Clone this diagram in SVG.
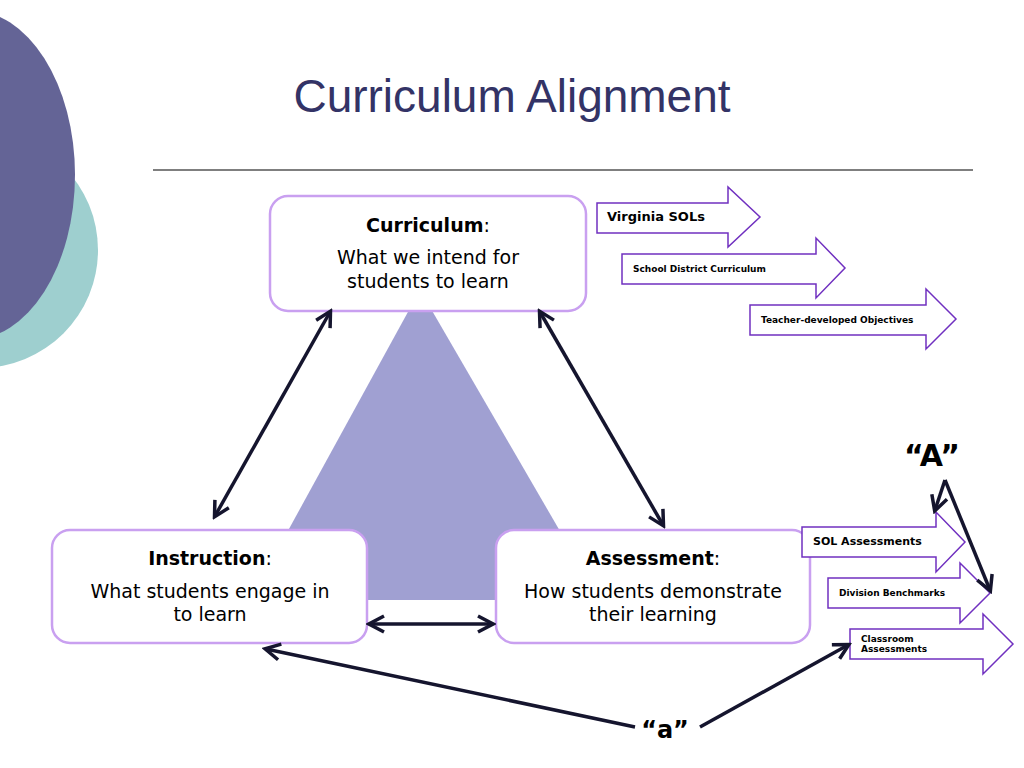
<svg xmlns="http://www.w3.org/2000/svg" width="1024" height="768" viewBox="0 0 1024 768">
<style>
.box{fill:#fff;stroke:#c9a0f0;stroke-width:2.5}
.arr{fill:#fff;stroke:#7030c0;stroke-width:1.5}
.t{font-family:"DejaVu Sans",sans-serif;fill:#000;text-anchor:middle}
.s{font-family:"DejaVu Sans",sans-serif;font-weight:bold;fill:#000}
.c{stroke:#15152e;stroke-width:3.5;fill:none}
</style>
<defs>
<marker id="h" markerWidth="8" markerHeight="8" refX="6" refY="4" orient="auto-start-reverse" markerUnits="userSpaceOnUse" viewBox="0 0 8 8">
<path d="M0,0 L7,4 L0,8" fill="none" stroke="#15152e" stroke-width="2"/>
</marker>
<marker id="hb" markerWidth="20" markerHeight="20" refX="16" refY="10" orient="auto-start-reverse" markerUnits="userSpaceOnUse" viewBox="0 0 20 20">
<path d="M2,2 L17,10 L2,18" fill="none" stroke="#15152e" stroke-width="3.5"/>
</marker>
</defs>
<rect width="1024" height="768" fill="#fff"/>
<circle cx="-20" cy="250" r="118" fill="#9ecfcf"/>
<ellipse cx="-30" cy="175" rx="105" ry="165" fill="#646496"/>
<text x="512" y="112" font-family="Liberation Sans,Arial,sans-serif" font-size="46" fill="#333366" text-anchor="middle">Curriculum Alignment</text>
<line x1="153" y1="170" x2="973" y2="170" stroke="#000" stroke-width="1.2"/>
<polygon points="420,290 250,600 600,600" fill="#a0a0d2"/>
<g id="curriculum"><rect class="box" x="270" y="196" width="316" height="115" rx="18"/>
<text class="t" x="428" y="232" font-size="19"><tspan font-weight="bold">Curriculum</tspan>:</text>
<text class="t" x="428" y="264" font-size="19">What we intend for</text>
<text class="t" x="428" y="288" font-size="19">students to learn</text></g>
<g id="instruction"><rect class="box" x="52" y="530" width="315" height="113" rx="18"/>
<text class="t" x="210" y="565" font-size="19"><tspan font-weight="bold">Instruction</tspan>:</text>
<text class="t" x="210" y="598" font-size="19">What students engage in</text>
<text class="t" x="210" y="621" font-size="19">to learn</text></g>
<g id="assessment"><rect class="box" x="496" y="530" width="314" height="113" rx="18"/>
<text class="t" x="653" y="565" font-size="19"><tspan font-weight="bold">Assessment</tspan>:</text>
<text class="t" x="653" y="598" font-size="19">How students demonstrate</text>
<text class="t" x="653" y="621" font-size="19">their learning</text></g>
<g id="arrows">
<polygon class="arr" points="597,203 728,203 728,187 760,217 728,247 728,233 597,233"/>
<text class="s" x="607" y="221" font-size="13">Virginia SOLs</text>
<polygon class="arr" points="622,254 816,254 816,238 845,268 816,298 816,284 622,284"/>
<text class="s" x="633" y="272" font-size="9">School District Curriculum</text>
<polygon class="arr" points="750,305 926,305 926,289 956,319 926,349 926,335 750,335"/>
<text class="s" x="761" y="323" font-size="9">Teacher-developed Objectives</text>
<polygon class="arr" points="802,527 936,527 936,512 965,542 936,572 936,557 802,557"/>
<text class="s" x="813" y="545" font-size="11">SOL Assessments</text>
<polygon class="arr" points="828,578 960,578 960,563 990,593 960,623 960,608 828,608"/>
<text class="s" x="839" y="596" font-size="9">Division Benchmarks</text>
<polygon class="arr" points="850,629 983,629 983,614 1013,644 983,674 983,659 850,659"/>
<text class="s" x="861" y="642" font-size="9">Classroom</text>
<text class="s" x="861" y="652" font-size="9">Assessments</text>
</g>
<text class="s" x="932" y="466" font-size="30" text-anchor="middle">“A”</text>
<text class="s" x="665" y="738" font-size="24" text-anchor="middle">“a”</text>
<g id="connectors">
<line class="c" x1="330" y1="312" x2="215" y2="516" marker-start="url(#hb)" marker-end="url(#hb)"/>
<line class="c" x1="540" y1="312" x2="663" y2="525" marker-start="url(#hb)" marker-end="url(#hb)"/>
<line class="c" x1="370" y1="624" x2="492" y2="624" marker-start="url(#hb)" marker-end="url(#hb)"/>
<line class="c" x1="635" y1="727" x2="266" y2="649" marker-end="url(#hb)"/>
<line class="c" x1="700" y1="727" x2="848" y2="645" marker-end="url(#hb)"/>
<line class="c" x1="945" y1="480" x2="935" y2="510" marker-end="url(#hb)"/>
<line class="c" x1="945" y1="480" x2="990" y2="590" marker-end="url(#hb)"/>
</g>
</svg>
